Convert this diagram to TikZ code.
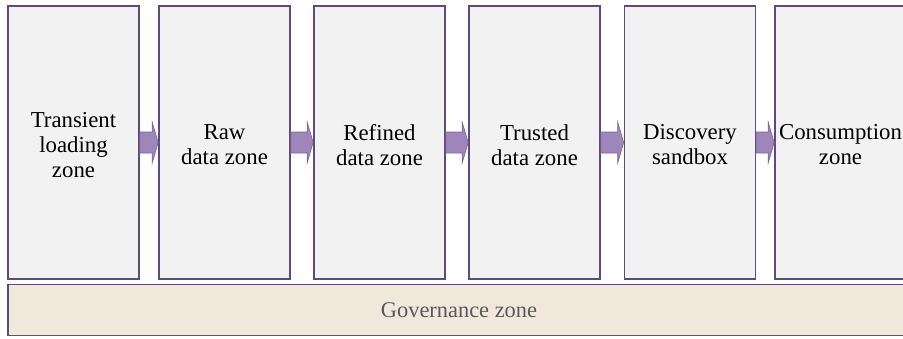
\documentclass[tikz,border=0pt]{standalone}
\usepackage{fontspec}
\setmainfont{Liberation Serif}
\usetikzlibrary{calc}
\definecolor{boxline}{HTML}{5F4B7B}
\definecolor{boxfill}{HTML}{F2F2F2}
\definecolor{arrfill}{HTML}{9E86BA}
\definecolor{arrline}{HTML}{7E6699}
\definecolor{govfill}{HTML}{F1E8DC}
\definecolor{govtext}{HTML}{595959}
\tikzset{
  zonebox/.style={draw=boxline, line width=1.6pt, fill=boxfill, minimum width=131pt, minimum height=273pt, inner sep=0pt},
  zonetext/.style={align=center, text=black, inner sep=0pt, yshift=-2.5pt, font=\rmfamily\fontsize{22.8}{25}\selectfont},
  flowarrow/.style={fill=arrfill, draw=arrline, line width=0.6pt, line join=miter}
}
\newcommand{\blockarrow}[2]{%
  \draw[flowarrow] ($(#1.east)+(0,-10.5)$) -- ($(#2.west)+(-6,-10.5)$) -- ($(#2.west)+(-6,-20.5)$) -- (#2.west) -- ($(#2.west)+(-6,20.5)$) -- ($(#2.west)+(-6,10.5)$) -- ($(#1.east)+(0,10.5)$) -- cycle;}
\begin{document}
\begin{tikzpicture}[x=1pt, y=-1pt]
\useasboundingbox (0,0) rectangle (903,338);
\clip (0,0) rectangle (903,338);
\fill[white] (0,0) rectangle (903,338);
\node[zonebox, label={[zonetext]center:{Transient\\loading\\zone}}] (z1) at (73.5,142.5) {};
\node[zonebox, label={[zonetext]center:{Raw\\data zone}}] (z2) at (224.5,142.5) {};
\node[zonebox, label={[zonetext]center:{Refined\\data zone}}] (z3) at (379.5,142.5) {};
\node[zonebox, label={[zonetext]center:{Trusted\\data zone}}] (z4) at (534.5,142.5) {};
\node[zonebox, label={[zonetext]center:{Discovery\\sandbox}}] (z5) at (690,142.5) {};
\node[zonebox, label={[zonetext]center:{Consumption\\zone}}] (z6) at (840.5,142.5) {};
\node[draw=boxline, line width=1.6pt, fill=govfill, minimum width=902pt, minimum height=51pt, inner sep=0pt, text=govtext, font=\rmfamily\fontsize{22.4}{25}\selectfont] (gov) at (459,310) {Governance zone};
\blockarrow{z1}{z2}
\blockarrow{z2}{z3}
\blockarrow{z3}{z4}
\blockarrow{z4}{z5}
\blockarrow{z5}{z6}
\end{tikzpicture}
\end{document}
